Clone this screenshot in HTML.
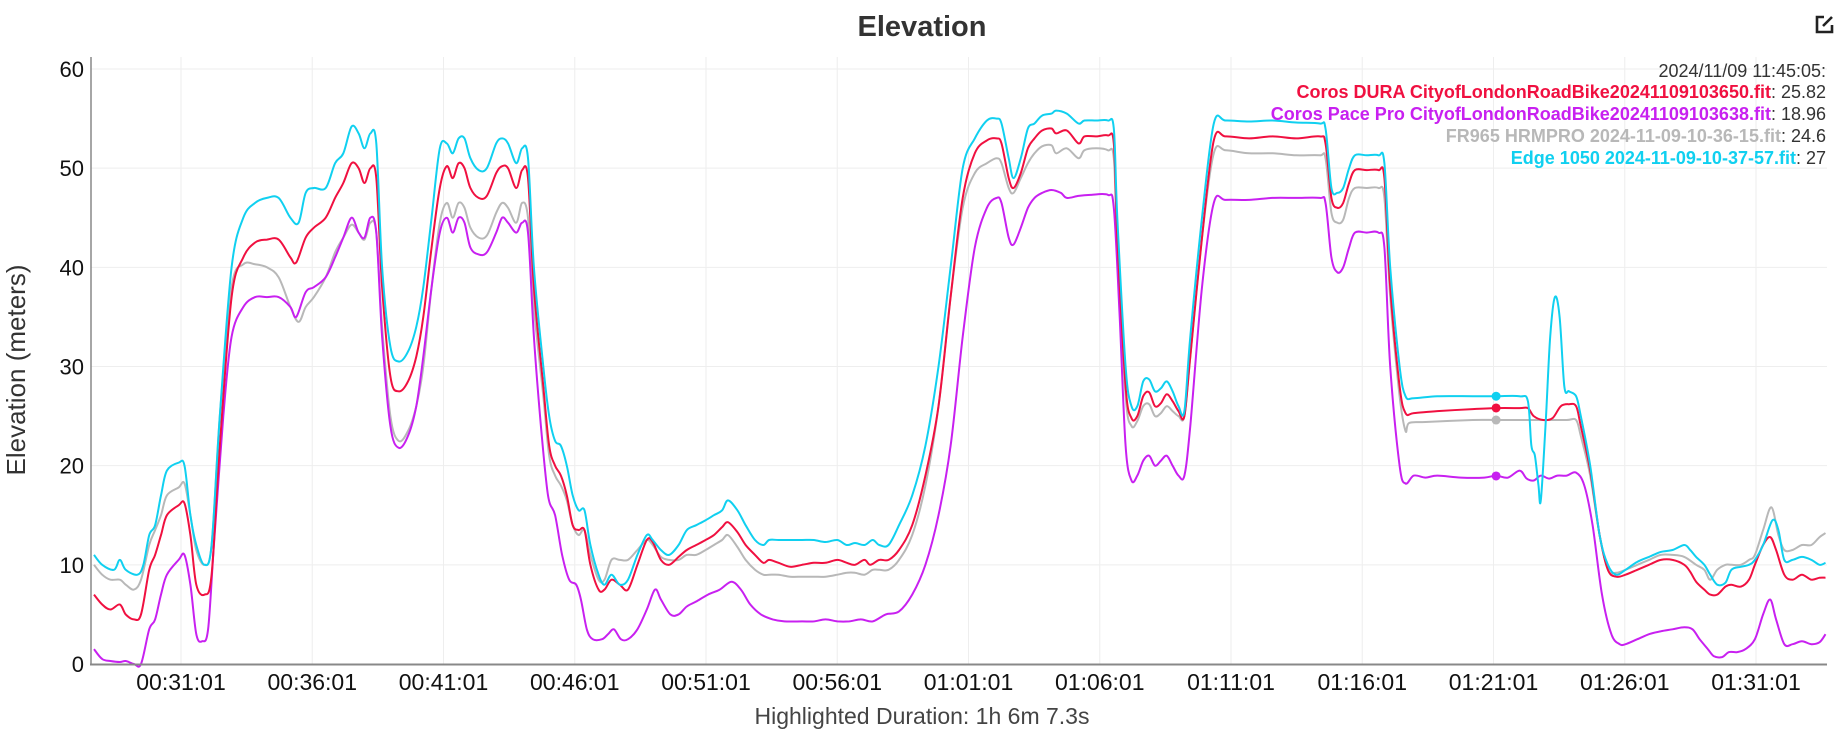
<!DOCTYPE html>
<html><head><meta charset="utf-8"><style>
html,body{margin:0;padding:0;background:#fff;}
body{width:1845px;height:738px;overflow:hidden;font-family:"Liberation Sans",sans-serif;}
svg text{font-family:"Liberation Sans",sans-serif;}
</style></head><body>
<svg id="c" width="1845" height="738" viewBox="0 0 1845 738" xmlns="http://www.w3.org/2000/svg">
<text x="922" y="36" text-anchor="middle" font-size="29" font-weight="bold" fill="#333">Elevation</text>
<g transform="translate(1814,14)" fill="none" stroke="#222" stroke-width="2.6"><path d="M10 3 H3 V18 H18 V11"/><path d="M9 12 L18 3"/></g>
<g id="grid"></g>
<g id="series" fill="none" stroke-width="2" stroke-linejoin="round"></g>
<line x1="91" y1="57" x2="91" y2="665" stroke="#888" stroke-width="1.5"/>
<line x1="90" y1="664.5" x2="1827" y2="664.5" stroke="#888" stroke-width="2"/>
<g id="marks"></g>
<g font-size="18" text-anchor="end">
<text x="1826" y="77" fill="#333">2024/11/09 11:45:05:</text>
<text x="1826" y="98"><tspan fill="#f01040" font-weight="bold">Coros DURA CityofLondonRoadBike20241109103650.fit</tspan><tspan fill="#333">: 25.82</tspan></text>
<text x="1826" y="120"><tspan fill="#c820f0" font-weight="bold">Coros Pace Pro CityofLondonRoadBike20241109103638.fit</tspan><tspan fill="#333">: 18.96</tspan></text>
<text x="1826" y="142"><tspan fill="#b8b8b8" font-weight="bold">FR965 HRMPRO 2024-11-09-10-36-15.fit</tspan><tspan fill="#333">: 24.6</tspan></text>
<text x="1826" y="164"><tspan fill="#10d0f0" font-weight="bold">Edge 1050 2024-11-09-10-37-57.fit</tspan><tspan fill="#333">: 27</tspan></text>
</g>
<text x="922" y="724" text-anchor="middle" font-size="23" fill="#444">Highlighted Duration: 1h 6m 7.3s</text>
<text transform="translate(25,370) rotate(-90)" text-anchor="middle" font-size="26" fill="#333">Elevation (meters)</text>
</svg>
<script>
var NS="http://www.w3.org/2000/svg",svg=document.getElementById('c');
function el(p,t,a,txt){var e=document.createElementNS(NS,t);for(var k in a)e.setAttribute(k,a[k]);if(txt!=null)e.textContent=txt;p.appendChild(e);return e;}
var W=[[740,0],[790,6],[860,8],[900,0]];
function off(d){if(d<=W[0][0]||d>=W[W.length-1][0])return 0;for(var i=0;i<W.length-1;i++){if(d>=W[i][0]&&d<=W[i+1][0]){var t=(d-W[i][0])/(W[i+1][0]-W[i][0]);return W[i][1]+t*(W[i+1][1]-W[i][1]);}}return 0;}
function X(d){return 181+(d-152)*1.1763;}
function Y(v){return 664-v*9.917;}
var g=document.getElementById('grid');
for(var i=1;i<=6;i++){var y=Y(i*10);el(g,'line',{x1:91,x2:1827,y1:y,y2:y,stroke:'#eee','stroke-width':1});}
for(var i=0;i<=6;i++){var y=Y(i*10);el(g,'text',{x:84,y:y+8,'text-anchor':'end','font-size':22,fill:'#111'},String(i*10));}
var labs=['00:31:01','00:36:01','00:41:01','00:46:01','00:51:01','00:56:01','01:01:01','01:06:01','01:11:01','01:16:01','01:21:01','01:26:01','01:31:01'];
for(var i=0;i<13;i++){var x=181+i*131.25;el(g,'line',{x1:x,x2:x,y1:57,y2:664,stroke:'#eee','stroke-width':1});el(g,'text',{x:x,y:690,'text-anchor':'middle','font-size':23,fill:'#111'},labs[i]);}
function P(s){var a=s.trim().split(/\s+/).map(function(t){var q=t.split(':');var d=+q[0];return [X(d+off(d)),Y(+q[1])];});
var d='M'+a[0][0].toFixed(1)+' '+a[0][1].toFixed(1);
for(var i=0;i<a.length-1;i++){var p0=a[i-1]||a[i],p1=a[i],p2=a[i+1],p3=a[i+2]||p2;var t=6;
d+=' C'+(p1[0]+(p2[0]-p0[0])/t).toFixed(1)+' '+(p1[1]+(p2[1]-p0[1])/t).toFixed(1)+' '+(p2[0]-(p3[0]-p1[0])/t).toFixed(1)+' '+(p2[1]-(p3[1]-p1[1])/t).toFixed(1)+' '+p2[0].toFixed(1)+' '+p2[1].toFixed(1);}
return d;}
var cy="78:11 85:10 95:9.5 100:10.5 105:9.5 115:9 120:10 125:13 130:14 135:17 140:19.5 150:20.3 155:20 160:15 165:12 172:10 178:12 185:25 195:40 205:45 215:46.5 225:47 235:47 245:45 252:44.5 258:47.5 265:48 275:48 283:50.5 290:51.5 297:54.2 303:53.5 308:52 313:53.5 318:52.5 323:40 330:32 337:30.5 345:31.5 352:34 358:38 365:45 372:52 378:52.5 383:51.5 388:53 393:53 398:51 405:49.8 412:50 420:52.5 425:53 430:52.5 437:50.5 442:52 447:51 452:40 460:30 465:25 470:22.5 475:22 480:20 485:17 490:15.5 495:15.5 500:12 507:9 512:8 518:9 525:8 532:8.5 540:11 548:13 553:12.5 560:11.5 567:11 575:12 582:13.5 590:14 598:14.5 605:15 612:15.5 617:16.5 625:15.5 632:14 640:12.5 647:12 652:12.5 660:12.5 670:12.5 680:12.5 690:12.5 700:12.3 710:12.5 718:12 725:12.2 733:12 740:12.5 745:12 752:12 760:14 770:17 780:22 790:30 800:40 810:50 820:53 830:54.8 838:55 842:54.5 848:51 852:49 858:51 865:54 872:54.5 880:55.3 890:55.5 895:55.8 905:55.5 915:54.5 920:54.8 930:54.8 940:54.8 945:54 948:45 955:30 960:26 965:26 970:28.5 975:28.7 980:27.5 985:27.8 990:28.5 995:27.5 1000:26 1005:25.5 1010:33 1020:45 1030:54.5 1040:54.8 1060:54.7 1080:54.8 1100:54.6 1120:54.5 1125:54 1130:48 1135:47.5 1140:48 1145:50 1150:51.3 1160:51.3 1170:51.3 1175:50.5 1180:40 1188:30 1193:27 1200:26.8 1220:27 1250:27 1270:27 1290:27 1297:26.5 1300:22 1303:21 1306:18 1308:16.5 1312:24 1316:33 1320:37 1324:35 1328:28 1332:27.5 1338:27 1342:25 1350:20 1358:13 1365:10 1372:9 1380:9.5 1390:10.3 1400:10.8 1410:11.3 1420:11.5 1430:12 1435:11.5 1440:10.8 1447:10 1452:9 1458:8 1465:8.2 1470:9.5 1478:9.8 1485:10 1490:10.5 1497:12 1505:14.5 1510:13.5 1515:10.5 1522:10.5 1530:10.8 1538:10.5 1545:10 1550:10.2";
var rd="78:7 85:6 92:5.5 100:6 105:5 112:4.5 118:5 125:9.5 130:11 135:13 140:15 150:16 155:16.2 160:13 165:8 172:7 178:9 185:22 195:37 205:41 215:42.5 225:42.8 235:42.8 245:41 250:40.5 258:43 265:44 275:45 283:47 290:48.5 297:50.5 303:50 308:48.5 313:50 318:49 323:38 330:29 337:27.5 345:28.5 352:31 358:35 365:42 372:48 378:50.2 383:49 388:50.5 393:50 398:48 405:47 412:47.2 420:49.5 425:50.2 430:50 437:48 442:49.8 447:49 452:38 460:28 465:22 470:20 475:19 480:17 485:14 490:13.5 495:13.5 500:10 507:7.5 512:7.5 518:8.5 525:8 532:7.5 540:10 548:12.5 553:12.3 560:10.5 567:10 575:10.8 582:11.5 590:12 598:12.5 605:13 612:13.8 617:14.3 625:13.3 632:12 640:11 647:10.2 652:10.5 660:10.2 670:9.8 680:10 690:10.2 700:10.2 710:10.5 718:10.2 725:10 733:10.5 738:10 745:10.5 752:10.5 760:11.5 770:14 780:19 790:26 800:37 810:47 820:51.5 830:52.8 838:53 842:52.5 848:49 852:48 858:49.5 865:52 872:53 880:53.8 890:54 895:53.5 905:53.8 915:52.5 920:53.2 930:53.2 940:53.3 945:52.5 948:43 955:28 960:24.8 965:25 970:27 975:27.4 980:26 985:26.3 990:27.2 995:26.5 1000:25.5 1005:25 1010:31 1020:43 1030:52.8 1040:53.2 1060:53 1080:53.2 1100:53 1120:53.2 1125:52.5 1130:47 1135:46 1140:46.5 1145:48.5 1150:49.8 1160:49.8 1170:49.8 1175:49 1180:38 1188:28 1193:25.3 1200:25.3 1220:25.5 1250:25.7 1270:25.8 1290:25.8 1297:25.8 1302:25 1310:24.6 1318:24.8 1325:26 1332:26.2 1338:26 1342:24 1350:19.5 1358:13 1365:9.5 1372:8.8 1380:9 1390:9.5 1400:10 1410:10.5 1420:10.5 1430:10 1435:9.3 1440:8.3 1447:7.5 1452:7 1458:7 1465:7.8 1470:8 1478:7.8 1485:8.5 1490:10 1497:12 1503:12.8 1508:11.5 1515:9 1522:8.5 1530:9 1538:8.5 1545:8.7 1550:8.7";
var gr="78:10 85:9 92:8.5 100:8.5 105:8 112:7.5 118:8.5 125:12 130:13.5 135:15 140:17 150:17.8 155:18.2 160:15 165:11.5 172:10 178:12 185:25 195:38 205:40.3 215:40.3 225:40 235:39 245:36 252:34.5 258:36 265:37 275:39 283:41.5 290:43 297:44.3 303:43.5 308:42.8 313:44.5 318:43.5 323:34 330:25 337:22.5 345:23.5 352:26 358:30 365:38 372:44.5 378:46.5 383:45 388:46.5 393:46 398:44 405:43 412:43.2 420:45.5 425:46.5 430:46 437:44.5 442:46.5 447:45 452:36 460:27 465:21 470:19 475:18 480:16.5 485:14 490:13 495:13.5 500:11 507:8.5 512:8.5 518:10.5 525:10.5 532:10.5 540:11.5 548:12.5 553:12 560:10.8 567:10.5 575:10.5 582:11 590:11 598:11.5 605:12 612:12.5 617:13 625:11.8 632:10.5 640:9.5 647:9 652:9 660:9 670:8.8 680:8.8 690:8.8 700:8.8 710:9 718:9.2 725:9.2 733:9 740:9.5 745:9.5 752:9.5 760:10.5 770:13 780:18 790:26 800:37 810:46 820:49.5 830:50.5 838:51 842:50.5 848:48 852:47.5 858:49 865:50.5 872:51.5 880:52.2 890:52.3 895:51.5 905:52 915:51 920:51.8 930:52 940:51.8 945:51 948:42 955:27 960:24 965:24.5 970:26 975:26.2 980:25 985:25.3 990:26 995:25.5 1000:25 1005:25 1010:31 1020:43 1030:51.5 1040:51.8 1060:51.5 1080:51.5 1100:51.3 1120:51.3 1125:51 1130:45.5 1135:44.5 1140:44.8 1145:47 1150:48 1160:48 1170:48 1175:47 1180:37 1188:27 1193:23.5 1196:24.3 1210:24.4 1250:24.6 1270:24.6 1290:24.6 1310:24.6 1330:24.6 1338:24.6 1342:23 1350:19 1358:13 1365:9.5 1372:9.2 1380:9.5 1390:10 1400:10.5 1410:11 1420:11 1430:10.8 1440:10 1447:9.5 1452:8.5 1458:9.5 1465:10 1470:10 1478:10 1485:10.5 1490:11 1497:13.5 1504:15.8 1510:13 1515:11.5 1522:11.5 1530:12 1538:12 1545:12.8 1550:13.2";
var pu="78:1.5 85:0.5 92:0.3 100:0.2 105:0.3 112:0 118:0 125:3.5 130:4.5 135:7 140:9 150:10.5 155:11 160:8 165:3 170:2.3 175:3.5 180:12 188:25 195:33 205:36 215:37 225:37 235:37 245:36 250:35 258:37.5 265:38 275:39 283:41 290:43 297:45 303:43.5 308:43 313:45 318:43.5 323:33 330:24 337:21.8 345:23 352:26 358:31 365:38 372:43.5 378:45 383:43.5 388:45 393:44.5 398:42 405:41.3 412:41.5 420:43.5 425:45 430:44.5 437:43.5 442:44.5 447:43.5 452:33 458:24 464:17 470:15 476:11 482:8.5 488:8 492:6.5 497:3.5 502:2.5 510:2.5 515:3 520:3.5 526:2.5 532:2.5 540:3.5 548:5.5 555:7.5 560:6.5 568:5 575:5 582:5.8 590:6.3 600:7 610:7.5 620:8.3 628:7.5 636:6 645:5 655:4.5 665:4.3 680:4.3 690:4.3 700:4.5 710:4.3 720:4.3 730:4.5 740:4.3 750:5 760:5.3 770:7 780:10 790:15 800:22 810:33 820:42 830:46 838:47 842:46.5 848:43 852:42.3 858:44 865:46 872:47 880:47.5 890:47.8 900:47.5 905:47 915:47.2 925:47.3 940:47.3 945:46 950:35 955:22 960:18.5 965:19 970:20.5 975:21 980:20 985:20.5 990:21 995:20 1000:19 1005:19 1010:24 1020:38 1030:46.5 1040:46.8 1060:46.8 1080:47 1100:47 1120:47 1125:46.5 1130:41 1135:39.5 1140:40 1145:42 1150:43.5 1160:43.5 1170:43.5 1175:42 1180:30 1188:20 1193:18.2 1200:19 1210:18.8 1220:19 1240:18.8 1260:18.8 1270:19 1280:18.8 1290:19.5 1296:18.7 1302:18.5 1308:19 1315:18.7 1322:19 1330:19 1338:19.3 1345:18 1352:14 1360:7 1368:3 1375:2 1380:2 1390:2.5 1400:3 1410:3.3 1420:3.5 1430:3.7 1437:3.5 1443:2.5 1450:1.5 1455:0.8 1462:0.7 1468:1.2 1475:1.2 1482:1.5 1490:2.5 1497:5 1503:6.5 1508:4.5 1515:2 1522:2 1530:2.3 1538:2 1545:2.2 1550:3";
var s=document.getElementById('series');
[[gr,'#b8b8b8'],[pu,'#c820f0'],[rd,'#f01040'],[cy,'#10d0f0']].forEach(function(q){el(s,'path',{d:P(q[0]),stroke:q[1]});});
var m=document.getElementById('marks'),mx=X(1270);
[[27,'#10d0f0'],[25.82,'#f01040'],[24.6,'#b8b8b8'],[18.96,'#c820f0']].forEach(function(q){el(m,'circle',{cx:mx,cy:Y(q[0]),r:4.5,fill:q[1]});});
</script>
</body></html>
